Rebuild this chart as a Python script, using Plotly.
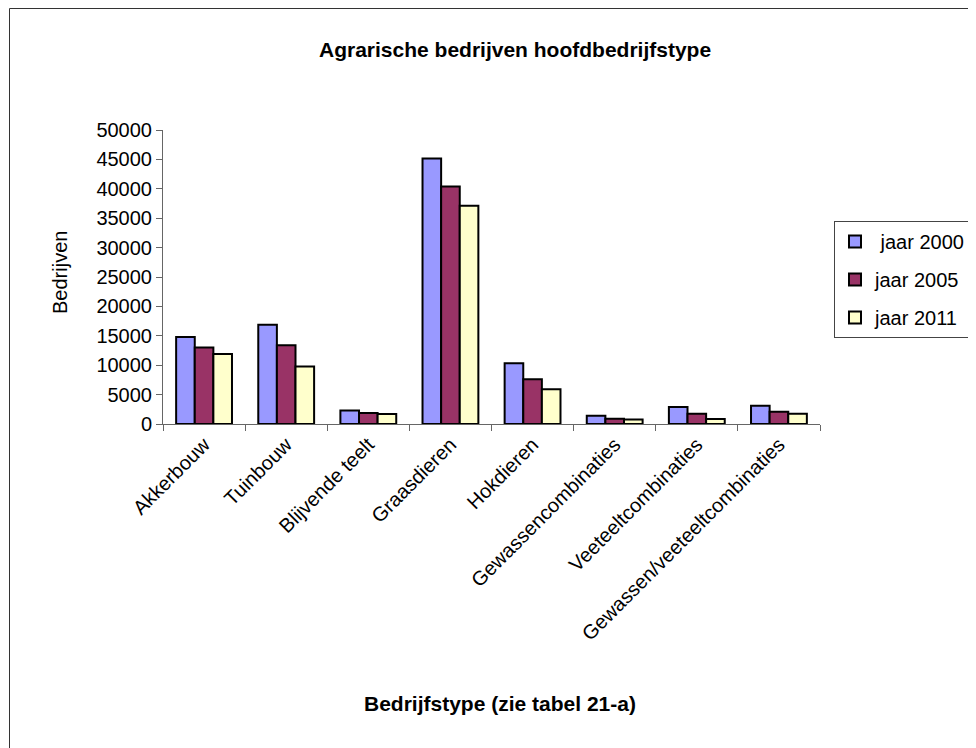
import plotly.graph_objects as go

categories = ["Akkerbouw", "Tuinbouw", "Blijvende teelt", "Graasdieren", "Hokdieren",
              "Gewassencombinaties", "Veeteeltcombinaties", "Gewassen/veeteeltcombinaties"]
jaar_2000 = [14800, 16900, 2300, 45150, 10350, 1400, 2900, 3100]
jaar_2005 = [13000, 13400, 1850, 40400, 7600, 900, 1750, 2100]
jaar_2011 = [11900, 9800, 1700, 37100, 5900, 750, 850, 1750]
series_names = [" jaar 2000", "jaar 2005", "jaar 2011"]
colors = ["#9999FF", "#993366", "#FFFFCC"]

W, H = 976, 748
OFF = 8  # page body margin
L, R, T, B = 163 - OFF, 820 - OFF, 130 - OFF, 424 - OFF
pw, ph = R - L, B - T

def px(x):
    return (x - OFF - L) / pw

def py(y):
    return (B - (y - OFF)) / ph

FONT = "Liberation Sans, Arial, sans-serif"

fig = go.Figure()
for name, vals, col in zip(series_names, [jaar_2000, jaar_2005, jaar_2011], colors):
    fig.add_trace(go.Bar(
        x=categories, y=vals, name=name, legendgroup=name,
        marker=dict(color=col, line=dict(color="black", width=2)),
    ))

fig.update_layout(
    width=W, height=H,
    margin=dict(l=L, r=W - R, t=T, b=H - B, autoexpand=False),
    paper_bgcolor="white", plot_bgcolor="white",
    barmode="group", bargap=0.32, bargroupgap=0,
    font=dict(family=FONT, size=20, color="black"),
    showlegend=True,
    legend=dict(
        x=px(834), y=py(221), xanchor="left", yanchor="top",
        bordercolor="#444", borderwidth=1, bgcolor="white",
        font=dict(size=20), tracegroupgap=9, traceorder="grouped",
        itemwidth=30,
    ),
    xaxis=dict(
        type="category", tickangle=-45, tickson="boundaries",
        ticks="outside", ticklen=6, tickcolor="#666",
        showline=True, linecolor="#666", linewidth=1,
        showgrid=False, tickfont=dict(size=20),
    ),
    yaxis=dict(
        range=[0, 50000], dtick=5000, tickformat="d",
        ticks="outside", ticklen=6, tickcolor="#666",
        showline=True, linecolor="#666", linewidth=1,
        showgrid=False, zeroline=False, tickfont=dict(size=20),
    ),
)

fig.add_annotation(
    text="<b>Agrarische bedrijven hoofdbedrijfstype</b>",
    xref="paper", yref="paper", x=px(515), y=py(49),
    xanchor="center", yanchor="middle", showarrow=False,
    font=dict(size=21, family=FONT),
)
fig.add_annotation(
    text="<b>Bedrijfstype (zie tabel 21-a)</b>",
    xref="paper", yref="paper", x=px(500), y=py(703),
    xanchor="center", yanchor="middle", showarrow=False,
    font=dict(size=21, family=FONT),
)
fig.add_annotation(
    text="Bedrijven", textangle=-90,
    xref="paper", yref="paper", x=px(60), y=py(273),
    xanchor="center", yanchor="middle", showarrow=False,
    font=dict(size=20, family=FONT),
)

fig.add_shape(
    type="rect", xref="paper", yref="paper",
    x0=px(9.5), y0=py(800), x1=px(1010), y1=py(8.5),
    line=dict(color="#333", width=1), fillcolor="rgba(0,0,0,0)", layer="below",
)

fig.write_html("out.html")
